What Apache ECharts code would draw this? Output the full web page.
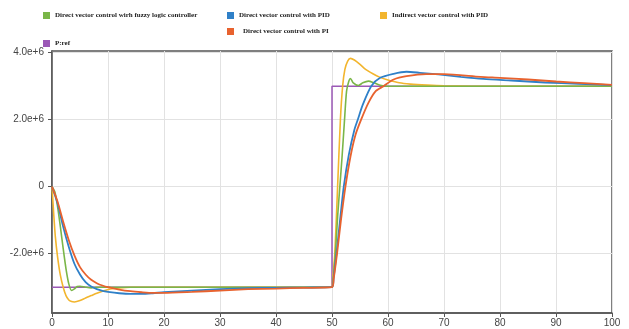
<!DOCTYPE html>
<html>
<head>
<meta charset="utf-8">
<script src="https://cdn.jsdelivr.net/npm/echarts@6/dist/echarts.min.js"></script>
<style>html,body{margin:0;padding:0;background:#fff}#c{width:629px;height:329px}</style>
</head>
<body>
<div id="c"></div>
<script>
// values in millions (×1e6)
var prefT = [0, 50, 50, 100];
var prefV = [-3, -3, 3, 3];

var greenT = [0,0.5,1,1.5,2,2.5,3,3.5,4,4.5,5,6,7,8,10,50, 50.2,50.6,51,51.4,51.8,52.2,52.6,53,53.3,53.8,54.7,55.5,56.5,57.5,58.6,60,100];
var greenV = [0,-0.15,-0.6,-1.2,-1.85,-2.45,-2.9,-3.1,-3.05,-2.98,-2.97,-3.0,-3.02,-3.0,-3.0,-3.0, -2.8,-2.0,-0.9,0,0.9,1.9,2.85,3.15,3.23,3.1,3.02,3.1,3.15,3.1,3.03,3.0,3.0];

var yellowT = [0,0.3,0.6,1,1.5,2,2.5,3,3.5,4,5,6,7,8,9,10,11,12,14,50, 50.1,50.5,51,51.5,51.9,52.3,52.8,53.3,54,55,56,57.3,58.5,59.7,62,64,67,70,75,100];
var yellowV = [0,-0.8,-1.5,-2.1,-2.65,-3.0,-3.25,-3.38,-3.43,-3.44,-3.4,-3.32,-3.25,-3.18,-3.12,-3.07,-3.04,-3.02,-3.0,-3.0, -2.8,-2.0,0,2.0,3.0,3.5,3.75,3.83,3.78,3.65,3.5,3.37,3.27,3.2,3.1,3.06,3.03,3.01,3.0,3.0];

var blueT = [0,1,2,3,4,5,6,7,8,9,10,12,14,16,18,20,25,30,35,40,45,50, 50.3,50.8,51.5,52.1,53,54,54.6,55.5,57,58.6,61,63.3,65.7,69,73,77,82,88,94,100];
var blueV = [0,-0.5,-1.2,-1.8,-2.3,-2.62,-2.85,-2.98,-3.06,-3.11,-3.14,-3.18,-3.2,-3.2,-3.18,-3.15,-3.1,-3.06,-3.03,-3.02,-3.01,-3.0, -2.7,-2.0,-0.9,0,0.95,1.7,2.0,2.45,3.0,3.25,3.37,3.43,3.4,3.35,3.28,3.22,3.17,3.11,3.07,3.03];

var orangeT = [0,1,2,3,4,5,6,7,8,9,10,12,14,16,18,20,25,30,35,40,45,50, 50.3,50.9,51.6,52.4,53.3,54.2,55.2,56.5,57.8,59.2,61,63.3,66.8,70,76.5,80,85,90,95,100];
var orangeV = [0,-0.45,-1.05,-1.6,-2.05,-2.4,-2.62,-2.78,-2.88,-2.95,-3.0,-3.07,-3.12,-3.15,-3.17,-3.17,-3.14,-3.1,-3.06,-3.04,-3.02,-3.0, -2.75,-2.0,-1.0,0,0.9,1.55,2.0,2.5,2.85,3.0,3.2,3.3,3.36,3.36,3.28,3.25,3.2,3.14,3.09,3.04];

var yTicks = [-2e6, 0, 2e6, 4e6];

var names = {
  green: 'Direct vector control wirh fuzzy logic controller',
  blue: 'Direct vector control with PID',
  yellow: 'Indirect vector control with PID',
  pref: 'P:ref',
  orange: 'Direct vector control with PI'
};
var colors = {green:'#7ab648', blue:'#2f80c8', yellow:'#f2b52e', pref:'#9b59b6', orange:'#e8622e'};

function pairs(t, v){ return t.map(function(x,i){ return [x, v[i]*1e6]; }); }
function line(key, t, v, w){
  return {name: names[key], type:'line', data: pairs(t,v), showSymbol:false, symbol:'none',
    smooth:0.25, lineStyle:{color:colors[key], width:w}, itemStyle:{color:colors[key]}, animation:false};
}
var legFont = {fontFamily:'Liberation Serif', fontWeight:'bold', fontSize:7, color:'#222'};
function leg(key, left, top, extra){
  var ts = Object.assign({}, legFont, extra||{});
  return {data:[{name:names[key], icon:'rect'}], left:left, top:top, padding:0, itemWidth:7, itemHeight:7, itemGap:4, textStyle:ts, selectedMode:false};
}

var chart = echarts.init(document.getElementById('c'), null, {renderer:'canvas'});
chart.setOption({
  backgroundColor:'#fff',
  animation:false,
  legend:[
    leg('green', 43, 12),
    leg('blue', 227, 12),
    leg('yellow', 380, 12),
    leg('pref', 43, 40),
    leg('orange', 227, 28, {padding:[0,0,22,4]})
  ],
  grid:{left:52, right:17, top:51, bottom:16, show:true, borderColor:'#555', borderWidth:1.5, backgroundColor:'transparent'},
  xAxis:{type:'value', min:0, max:100, interval:10,
    axisLine:{onZero:false, lineStyle:{color:'#555', width:1.5}},
    axisTick:{show:true, length:4, lineStyle:{color:'#555'}},
    axisLabel:{color:'#444', fontSize:10, fontFamily:'Liberation Sans', margin:5},
    splitLine:{show:true, lineStyle:{color:'#e2e2e2', width:1}}},
  yAxis:{type:'value', min:-3.77e6, max:4.05e6,
    axisLine:{show:true, onZero:false, lineStyle:{color:'#555', width:1.5}},
    axisTick:{show:true, length:4, lineStyle:{color:'#555'}, customValues:yTicks},
    axisLabel:{color:'#444', fontSize:10, fontFamily:'Liberation Sans', margin:8, customValues:yTicks,
      formatter:function(v){ return v===0 ? '0' : v.toExponential(1); }},
    splitLine:{show:true, lineStyle:{color:'#e2e2e2', width:1}}},
  series:[
    {name:names.pref, type:'line', data:pairs(prefT,prefV), showSymbol:false, symbol:'none', lineStyle:{color:colors.pref, width:1.5}, itemStyle:{color:colors.pref}, animation:false},
    line('yellow', yellowT, yellowV, 1.6),
    line('green', greenT, greenV, 1.6),
    line('blue', blueT, blueV, 1.8),
    line('orange', orangeT, orangeV, 1.8)
  ]
});
</script>
</body>
</html>
